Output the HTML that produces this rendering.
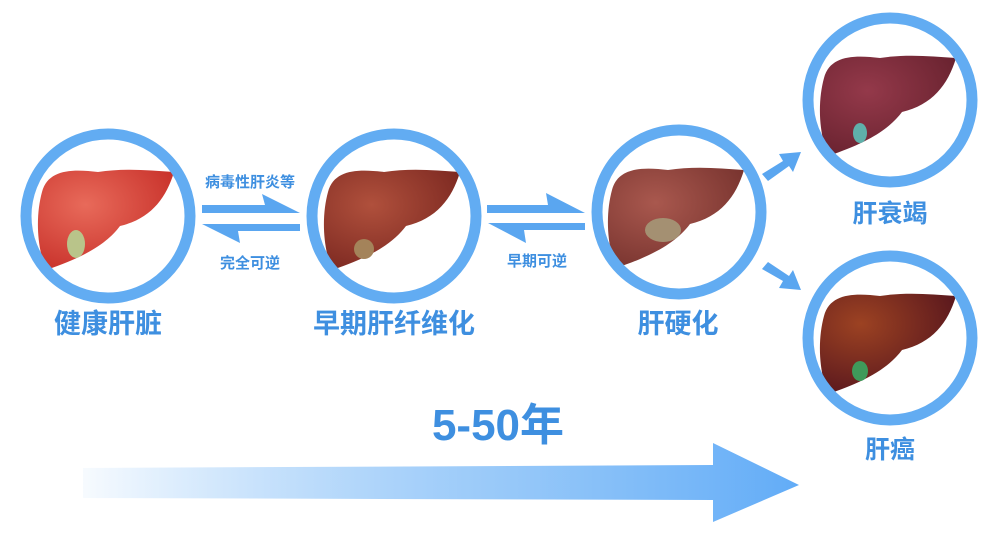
<!DOCTYPE html>
<html><head><meta charset="utf-8"><style>
html,body{margin:0;padding:0;background:#fff;}
svg{display:block;}
text{font-family:"Liberation Sans","Noto Sans CJK SC",sans-serif;fill:#3e8fe0;font-weight:bold;}
text.s{font-weight:600;}
</style></head><body>
<svg width="1000" height="533" viewBox="0 0 1000 533" xmlns="http://www.w3.org/2000/svg">
<defs>
<linearGradient id="g" x1="0" x2="1" y1="0" y2="0">
<stop offset="0" stop-color="#5aa8f5" stop-opacity="0.05"/>
<stop offset="0.5" stop-color="#7ab9f7" stop-opacity="0.7"/>
<stop offset="1" stop-color="#62acf7"/>
</linearGradient>
<radialGradient id="l1" cx="0.35" cy="0.35" r="0.7"><stop offset="0" stop-color="#e86a5a"/><stop offset="1" stop-color="#c9332c"/></radialGradient>
<radialGradient id="l2" cx="0.35" cy="0.35" r="0.7"><stop offset="0" stop-color="#b0503c"/><stop offset="1" stop-color="#7e2a22"/></radialGradient>
<radialGradient id="l3" cx="0.35" cy="0.35" r="0.7"><stop offset="0" stop-color="#a9584e"/><stop offset="1" stop-color="#7a3530"/></radialGradient>
<radialGradient id="l4" cx="0.35" cy="0.35" r="0.7"><stop offset="0" stop-color="#94394a"/><stop offset="1" stop-color="#6a2330"/></radialGradient>
<radialGradient id="l5" cx="0.3" cy="0.3" r="0.7"><stop offset="0" stop-color="#9c4222"/><stop offset="1" stop-color="#5e1a1e"/></radialGradient>
<path id="liver" d="M-66,-22 C-60,-45 -35,-45 -10,-42 C15,-46 40,-44 66,-42 C58,-15 42,5 12,12 C0,28 -20,42 -62,56 C-72,30 -72,0 -66,-22 Z"/>
</defs>

<g transform="translate(108,214)"><use href="#liver" fill="url(#l1)"/><ellipse cx="-32" cy="30" rx="9" ry="14" fill="#b9c48a"/></g>
<g transform="translate(394,214)"><use href="#liver" fill="url(#l2)"/><ellipse cx="-30" cy="35" rx="10" ry="10" fill="#a4835a"/></g>
<g transform="translate(678,212)"><use href="#liver" fill="url(#l3)"/><ellipse cx="-15" cy="18" rx="18" ry="12" fill="#a49072"/></g>
<g transform="translate(890,100)"><use href="#liver" fill="url(#l4)"/><ellipse cx="-30" cy="33" rx="7" ry="10" fill="#5fb0aa"/></g>
<g transform="translate(890,338)"><use href="#liver" fill="url(#l5)"/><ellipse cx="-30" cy="33" rx="8" ry="10" fill="#3f9a5a"/></g>

<g fill="none" stroke="#62acf2" stroke-width="11">
<circle cx="108" cy="216" r="82"/>
<circle cx="394" cy="216" r="82"/>
<circle cx="679" cy="212" r="82"/>
<circle cx="890" cy="100" r="82"/>
<circle cx="890" cy="338" r="82"/>
</g>

<g fill="#5aa6f0">
<polygon points="202,205 265,205 262,194 300,213 202,213"/>
<polygon points="300,224 202,224 240,243 238,231 300,231"/>
<polygon points="487,205 548,205 546,193 585,213 487,213"/>
<polygon points="585,223 488,223 526,243 524,230 585,230"/>
<polygon points="762,174 783,161 779,154 801,152 793,172 789,166 768,181"/>
<polygon points="768,262 789,276 793,270 801,290 779,288 783,281 762,269"/>
</g>

<polygon points="83,468 713,465 713,443 799,485 713,522 713,500 83,498" fill="url(#g)"/>

<text class="s" x="250" y="187" font-size="15" text-anchor="middle">病毒性肝炎等</text>
<text class="s" x="250" y="268" font-size="15" text-anchor="middle">完全可逆</text>
<text class="s" x="537" y="266" font-size="15" text-anchor="middle">早期可逆</text>
<text x="108" y="333" font-size="27" text-anchor="middle">健康肝脏</text>
<text x="394" y="333" font-size="27" text-anchor="middle">早期肝纤维化</text>
<text x="678" y="333" font-size="27" text-anchor="middle">肝硬化</text>
<text x="890" y="222" font-size="25" text-anchor="middle">肝衰竭</text>
<text x="890" y="458" font-size="25" text-anchor="middle">肝癌</text>
<text x="498" y="440" font-size="44" text-anchor="middle">5-50年</text>
</svg>
</body></html>
